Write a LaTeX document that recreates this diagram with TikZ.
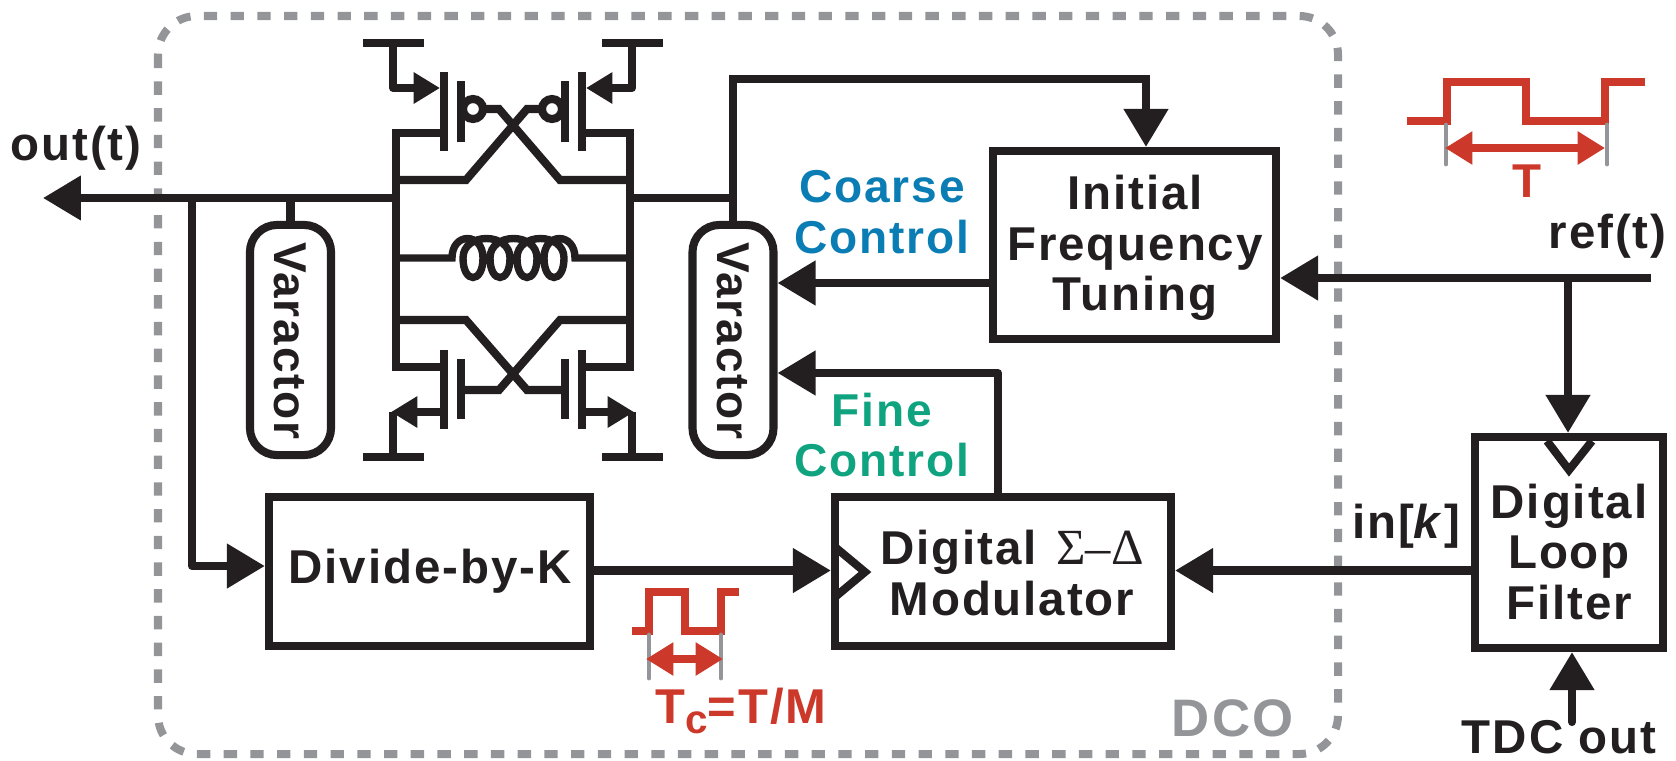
\documentclass[tikz,border=0pt]{standalone}
\usepackage{fontspec}
\setmainfont{Liberation Sans}[LetterSpace=4]
\newfontfamily\fontsymbole{Liberation Serif}
\usepackage{tikz}
\usetikzlibrary{arrows.meta}
\definecolor{colfil}{HTML}{231F20}
\definecolor{colrouge}{HTML}{CC3829}
\definecolor{colgris}{HTML}{939598}
\definecolor{colbleu}{HTML}{0A7DB5}
\definecolor{colvert}{HTML}{0FA37F}

\begin{document}
\begin{tikzpicture}[x=0.01cm,y=-0.01cm,
	fil/.style={line width=2.3pt,draw=colfil},
	sig/.style={fil,-{Triangle[length=10.8pt,width=12.2pt]}},
	mos/.style={fil,-{Triangle[length=7.5pt,width=8.5pt]}},
	bloc/.style={fil,rectangle,inner sep=0pt},
	varactor/.style={fil,rectangle,rounded corners=7.7pt,minimum width=0.81cm,minimum height=2.3cm,inner sep=0pt},
	etiquette/.style={font=\fontsize{13.5}{14.4}\selectfont\bfseries,text=colfil,align=center,inner sep=0pt},
	commande/.style={etiquette,font=\fontsize{13.1}{14.4}\selectfont\bfseries},
	horloge/.style={line width=2.28pt,draw=colrouge},
	repere/.style={line width=1.4pt,draw=colgris,line cap=round},
	periode/.style={line width=2.2pt,draw=colrouge,{Triangle[length=7.8pt,width=9pt]}-{Triangle[length=7.8pt,width=9pt]}}]

\useasboundingbox (0,0) rectangle (1676,760);

%Cadre du DCO
\draw[line width=2.28pt,draw=colgris,dash pattern=on 3.8pt off 3.8pt,rounded corners=11pt] (158,16) rectangle (1338,754);
\node[etiquette,anchor=base east,text=colgris,font=\fontsize{15}{16}\selectfont\bfseries] (dco) at (1294,736) {DCO};

%Blocs
\node[bloc,minimum width=2.83cm,minimum height=1.88cm] (tuning) at (1134.5,245) {};
\node[etiquette] (tuningtext) at (1135,248) {Initial\\Frequency\\Tuning};
\node[bloc,minimum width=3.21cm,minimum height=1.49cm] (divider) at (429.5,571.5) {};
\node[etiquette] (dividertext) at (430,571) {Divide-by-K};
\node[bloc,minimum width=3.36cm,minimum height=1.49cm] (modulator) at (1003,571.5) {};
\node[etiquette] (modulatortext) at (1012,573) {Digital\hspace{1.2pt} {\fontsymbole\mdseries\fontsize{14.4}{14.4}\selectfont Σ–Δ}\\Modulator};
\node[bloc,minimum width=1.88cm,minimum height=2.11cm] (filter) at (1569,542.5) {};
\node[etiquette] (filtertext) at (1569,552) {Digital\\Loop\\Filter};

%Varactors
\node[varactor] (varactorL) at (290.5,340) {};
\node[etiquette,rotate=-90,font=\fontsize{13.1}{14.3}\selectfont\bfseries] (varactorLtext) at (290.5,341) {Varactor};
\node[varactor] (varactorR) at (733,340) {};
\node[etiquette,rotate=-90,font=\fontsize{13.1}{14.3}\selectfont\bfseries] (varactorRtext) at (733.5,341) {Varactor};

%Bascules d'horloge
\draw[fil,line join=miter] (835,547) -- (865,572) -- (835,597);
\draw[fil,line join=miter] (1547,441) -- (1569,470) -- (1592,441);

%Entrees et sorties
\coordinate (outtip) at (43,198);
\coordinate (outwire) at (396,198);
\coordinate (divin) at (192,566);
\coordinate (tuningin) at (1146,79);
\coordinate (refin) at (1651,278);
\coordinate (reffork) at (1568,278);
\coordinate (coarse) at (0,283);
\coordinate (fine) at (998,373);
\coordinate (clock) at (0,570.5);
\coordinate (tdcin) at (1572,722);
\draw[sig] (outwire) -- (outtip);
\draw[sig,line join=round] (outwire -| divin) -- (divin) -- (divider.west |- divin);
\draw[fil] (varactorL.north) -- (outwire -| varactorL.north);
\draw[fil] (630,198) -- (outwire -| varactorR.north) -- (varactorR.north);
\draw[sig] (outwire -| varactorR.north) -- (varactorR.north |- tuningin) -- (tuningin) -- (tuningin |- tuning.north);
\draw[sig] (refin) -- (tuning.east |- refin);
\draw[sig] (reffork) -- (reffork |- filter.north);
\draw[sig] (tuning.west |- coarse) -- (varactorR.east |- coarse);
\draw[sig,line join=round] (fine |- modulator.north) -- (fine) -- (varactorR.east |- fine);
\draw[sig] (divider.east |- clock) -- (modulator.west |- clock);
\draw[sig] (filter.west |- clock) -- (modulator.east |- clock);
\draw[sig,line cap=round] (tdcin) -- (tdcin |- filter.south);

%Etiquettes
\node[etiquette,anchor=base] (outlabel) at (76,160) {out(t)};
\node[etiquette,anchor=base east] (reflabel) at (1667,248) {ref(t)};
\node[etiquette,anchor=base] (inlabel) at (1406,538) {in[\textit{k}]};
\node[etiquette,anchor=base] (tdclabel) at (1559,753) {TDC out};
\node[commande,text=colbleu] (coarselabel) at (882,212) {Coarse\\Control};
\node[commande,text=colvert] (finelabel) at (882,435) {Fine\\Control};

%Transistors PMOS
\draw[fil] (444,72) -- (444,151);
\draw[fil] (461,81) -- (461,142);
\draw[fil] (582,72) -- (582,151);
\draw[fil] (565,81) -- (565,142);
\draw[fil] (473,109) circle (10);
\draw[fil] (552,109) circle (10);
\draw[fil] (363,43) -- (424,43);
\draw[fil] (602,43) -- (663,43);
\draw[mos,line join=round] (393,43) -- (393,88) -- (440,88);
\draw[mos,line join=round] (632,43) -- (632,88) -- (586,88);

%Transistors NMOS
\draw[fil] (444,350) -- (444,429);
\draw[fil] (461,359) -- (461,419);
\draw[fil] (582,350) -- (582,429);
\draw[fil] (565,359) -- (565,419);
\draw[fil] (363,457) -- (424,457);
\draw[fil] (602,457) -- (663,457);
\draw[fil] (393,457) -- (393,412);
\draw[fil] (632,457) -- (632,412);
\draw[mos] (444,412) -- (391,412);
\draw[mos] (582,412) -- (634,412);

%Rails et croisements
\draw[fil] (444,133) -- (396,133) -- (396,367) -- (444,367);
\draw[fil] (582,133) -- (630,133) -- (630,367) -- (582,367);
\draw[fil] (486,109) -- (499,109) -- (560,180) -- (630,180);
\draw[fil] (539,109) -- (527,109) -- (466,180) -- (396,180);
\draw[fil] (461,390) -- (499,390) -- (560,320) -- (630,320);
\draw[fil] (565,390) -- (527,390) -- (466,320) -- (396,320);

%Inductance
\draw[line width=2.1pt,draw=colfil] (396,258) -- (452,258) .. controls (452,232) and (483,232) .. (483,258)
	foreach \i in {0,1,2} {
		.. controls (483+27*\i,284) and (463+27*\i,284) .. (463+27*\i,258)
		.. controls (463+27*\i,232) and (510+27*\i,232) .. (510+27*\i,258)
	}
	.. controls (564,284) and (544,284) .. (544,258)
	.. controls (544,232) and (575,232) .. (575,258) -- (630,258);

%Horloge de reference
\draw[horloge] (1407,121) -- (1447,121) -- (1447,82) -- (1526,82) -- (1526,121) -- (1605,121) -- (1605,82) -- (1645,82);
\draw[repere] (1446,125) -- (1446,164);
\draw[repere] (1607,125) -- (1607,164);
\coordinate (periodeA) at (1445,148);
\coordinate (periodeB) at (1605,148);
\draw[periode] (periodeA) -- (periodeB);
\node[etiquette,anchor=base,text=colrouge] (tlabel) at (1527,197) {T};

%Horloge divisee
\draw[horloge] (632,631) -- (649,631) -- (649,592) -- (685,592) -- (685,631) -- (721,631) -- (721,592) -- (739,592);
\draw[repere] (649,635) -- (649,678);
\draw[repere] (721,635) -- (721,678);
\coordinate (periodeC) at (646,659);
\coordinate (periodeD) at (723,659);
\draw[periode] (periodeC) -- (periodeD);
\node[etiquette,anchor=base,text=colrouge,font=\fontsize{13.9}{14.4}\selectfont\bfseries] (tclabel) at (741,723) {T\raisebox{-0.22em}{\fontsize{11.5}{11}\selectfont c}=T/M};

\end{tikzpicture}
\end{document}
